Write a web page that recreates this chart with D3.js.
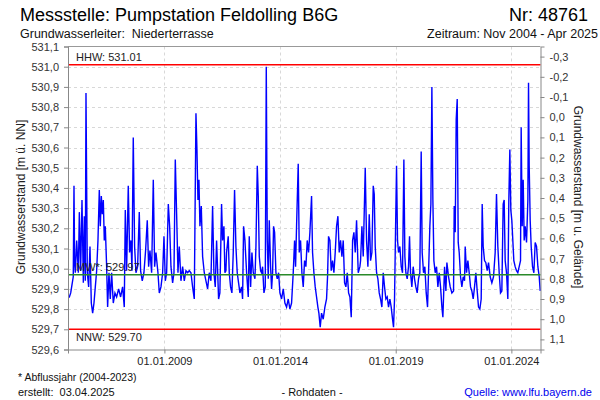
<!DOCTYPE html>
<html><head><meta charset="utf-8">
<script src="https://cdn.jsdelivr.net/npm/d3@7"></script>
<style>body{margin:0;background:#fff}svg{display:block;font-family:"Liberation Sans",Arial,sans-serif}text{white-space:pre}</style>
</head><body><svg id="c" width="600" height="400"></svg>
<script>
// ---- data ----
const title = "Messstelle: Pumpstation Feldolling B6G";
const stationNr = "Nr: 48761";
const aquifer = "Grundwasserleiter:  Niederterrasse";
const period = "Zeitraum: Nov 2004 - Apr 2025";
const xTickDates = ["2009-01-01", "2014-01-01", "2019-01-01", "2024-01-01"];
const xTickLabels = ["01.01.2009", "01.01.2014", "01.01.2019", "01.01.2024"];
const leftTicks = [529.6, 529.7, 529.8, 529.9, 530.0, 530.1, 530.2, 530.3, 530.4, 530.5, 530.6, 530.7, 530.8, 530.9, 531.0, 531.1];
const rightTicks = [-0.3, -0.2, -0.1, 0.0, 0.1, 0.2, 0.3, 0.4, 0.5, 0.6, 0.7, 0.8, 0.9, 1.0, 1.1];
const groundLevel = 530.75;
const refNames = ["HHW", "MW*", "NNW"];
const refValues = [531.01, 529.97, 529.70];
const footNote = "* Abflussjahr (2004-2023)";
const created = "erstellt:  03.04.2025";
const rawNote = "- Rohdaten -";
const source = "Quelle: www.lfu.bayern.de";
// [decimal year, groundwater level m ü. NN]
const levelSeries = [
[2004.84,529.86],[2004.891,529.86],[2004.95,529.88],[2004.991,529.91],[2005.06,529.96],[2005.092,530.41],[2005.12,530.02],[2005.150,529.98],
[2005.208,530.14],[2005.280,529.98],[2005.323,530.28],[2005.380,529.99],[2005.438,530.34],[2005.496,529.93],
[2005.539,530.26],[2005.582,529.94],[2005.611,530.87],[2005.668,529.98],[2005.726,529.91],[2005.784,530.11],
[2005.841,529.83],[2005.899,529.78],[2005.957,529.83],[2006.014,529.91],[2006.072,529.99],[2006.129,530.14],
[2006.187,530.39],[2006.230,530.21],[2006.274,530.36],[2006.317,530.27],[2006.360,530.34],[2006.403,530.14],
[2006.446,530.21],[2006.504,530.01],[2006.547,529.81],[2006.605,529.98],[2006.662,529.85],[2006.720,529.98],
[2006.792,529.83],[2006.864,529.88],[2006.936,529.86],[2007.023,529.90],[2007.109,529.86],[2007.195,529.91],
[2007.267,529.81],[2007.311,530.29],[2007.368,529.99],[2007.440,530.41],[2007.498,530.08],[2007.556,530.14],
[2007.599,529.99],[2007.656,530.65],[2007.714,530.11],[2007.772,529.98],[2007.844,530.01],[2007.916,530.28],
[2007.973,529.99],[2008.045,529.94],[2008.117,529.98],[2008.189,530.09],[2008.261,530.24],[2008.319,530.01],
[2008.377,530.09],[2008.449,529.98],[2008.521,530.44],[2008.578,530.01],[2008.636,530.08],[2008.722,529.98],
[2008.780,529.88],[2008.852,529.91],[2008.924,529.98],[2008.982,530.16],[2009.039,529.94],[2009.097,529.98],
[2009.169,530.32],[2009.227,530.21],[2009.284,530.01],[2009.356,529.93],[2009.414,529.98],[2009.471,530.54],
[2009.529,530.27],[2009.587,529.98],[2009.644,530.11],[2009.716,529.94],[2009.788,530.01],[2009.860,529.94],
[2009.932,529.99],[2010.004,529.98],[2010.076,529.99],[2010.148,529.98],[2010.220,529.91],[2010.292,529.85],
[2010.365,530.77],[2010.408,530.59],[2010.451,530.34],[2010.494,530.44],[2010.537,530.21],[2010.595,530.31],
[2010.653,530.06],[2010.725,529.98],[2010.797,529.94],[2010.869,529.90],[2010.941,529.98],[2011.013,529.94],
[2011.085,530.31],[2011.142,529.98],[2011.200,529.91],[2011.258,530.14],[2011.344,529.85],[2011.40,529.88],
[2011.473,530.32],[2011.517,530.14],[2011.574,530.21],[2011.617,529.98],[2011.661,529.99],[2011.689,530.08],
[2011.761,530.16],[2011.805,529.98],[2011.862,529.91],[2011.920,529.88],[2011.978,530.08],[2012.035,530.39],
[2012.093,530.11],[2012.150,529.98],[2012.208,529.93],[2012.266,529.88],[2012.338,529.91],[2012.381,529.85],
[2012.424,530.21],[2012.482,530.14],[2012.554,529.98],[2012.626,529.86],[2012.669,530.16],[2012.727,529.91],
[2012.784,530.08],[2012.842,529.98],[2012.914,529.95],[2012.957,530.11],[2013.015,530.51],[2013.058,530.36],
[2013.101,530.06],[2013.159,529.99],[2013.202,529.98],[2013.245,530.01],[2013.303,529.88],[2013.360,529.91],
[2013.404,531.00],[2013.447,530.14],[2013.490,529.95],[2013.533,530.24],[2013.591,530.01],[2013.634,529.90],
[2013.677,529.98],[2013.720,530.21],[2013.764,530.18],[2013.821,529.98],[2013.879,529.95],[2013.937,529.98],
[2013.994,529.88],[2014.066,529.85],[2014.138,529.90],[2014.210,529.83],[2014.282,529.81],[2014.354,529.85],
[2014.426,529.80],[2014.498,529.83],[2014.570,529.98],[2014.628,530.14],[2014.671,530.01],[2014.714,530.21],
[2014.786,530.52],[2014.830,530.08],[2014.887,530.14],[2014.945,529.98],[2015.003,529.91],[2015.060,530.04],
[2015.118,530.01],[2015.175,530.14],[2015.233,530.08],[2015.291,530.18],[2015.363,530.36],[2015.406,530.08],
[2015.464,529.98],[2015.521,529.91],[2015.579,529.86],[2015.636,529.81],[2015.680,529.78],[2015.737,529.71],
[2015.795,529.78],[2015.867,529.75],[2015.939,529.81],[2016.011,529.85],[2016.054,529.96],[2016.097,530.16],
[2016.155,530.14],[2016.213,529.99],[2016.270,530.04],[2016.328,529.98],[2016.385,530.08],[2016.443,530.21],
[2016.501,530.26],[2016.558,530.08],[2016.616,530.14],[2016.674,530.06],[2016.731,530.14],[2016.789,529.93],
[2016.846,529.91],[2016.904,529.98],[2016.962,529.88],[2017.019,529.86],[2017.077,529.76],[2017.135,530.14],
[2017.192,530.18],[2017.250,530.08],[2017.307,530.24],[2017.379,529.98],[2017.451,530.01],[2017.480,530.04],
[2017.538,530.21],[2017.595,530.06],[2017.682,530.50],[2017.739,530.14],[2017.797,530.01],[2017.855,530.27],
[2017.912,530.04],[2017.970,530.08],[2018.028,530.41],[2018.071,530.37],[2018.114,530.11],[2018.172,529.98],
[2018.229,529.95],[2018.287,529.88],[2018.344,529.85],[2018.402,529.81],[2018.460,529.98],[2018.517,529.91],
[2018.575,529.85],[2018.633,529.86],[2018.690,529.81],[2018.748,529.85],[2018.805,529.81],[2018.863,529.75],
[2018.906,529.71],[2018.949,529.85],[2018.993,530.19],[2019.036,530.51],[2019.079,530.14],[2019.122,530.08],
[2019.180,530.11],[2019.238,530.01],[2019.295,529.98],[2019.353,530.54],[2019.396,530.06],[2019.439,529.98],
[2019.497,529.95],[2019.554,530.01],[2019.598,530.16],[2019.641,529.98],[2019.698,529.91],[2019.756,530.01],
[2019.814,529.95],[2019.871,529.91],[2019.929,529.88],[2019.987,529.95],[2020.044,529.98],[2020.102,530.58],
[2020.145,530.08],[2020.203,529.98],[2020.260,530.01],[2020.318,529.88],[2020.376,529.81],[2020.419,529.98],
[2020.476,530.21],[2020.520,530.32],[2020.563,530.90],[2020.606,530.34],[2020.649,530.04],[2020.707,529.98],
[2020.764,530.01],[2020.822,529.91],[2020.880,529.98],[2020.937,529.91],[2020.995,529.81],[2021.038,529.76],
[2021.110,530.01],[2021.168,529.89],[2021.211,530.03],[2021.283,529.96],[2021.355,529.91],[2021.427,529.88],
[2021.499,529.89],[2021.528,530.31],[2021.571,530.18],[2021.614,530.74],[2021.658,530.84],[2021.701,530.13],
[2021.744,530.08],[2021.802,529.96],[2021.859,529.91],[2021.917,529.96],[2021.975,529.94],[2022.003,530.11],
[2022.061,529.98],[2022.119,530.04],[2022.176,529.98],[2022.234,529.91],[2022.291,529.89],[2022.349,529.85],
[2022.407,529.91],[2022.464,529.98],[2022.522,529.89],[2022.580,529.81],[2022.637,529.80],[2022.695,529.85],
[2022.738,530.32],[2022.781,530.11],[2022.839,530.04],[2022.896,530.03],[2022.954,529.99],[2023.012,530.03],
[2023.084,529.96],[2023.156,529.93],[2023.228,529.96],[2023.300,530.08],[2023.357,530.37],[2023.415,530.11],
[2023.473,529.98],[2023.530,529.88],[2023.588,529.89],[2023.646,530.32],[2023.689,530.34],[2023.732,530.04],
[2023.790,529.98],[2023.847,529.85],[2023.890,530.34],[2023.934,530.59],[2023.977,530.29],[2024.020,530.24],
[2024.063,530.14],[2024.106,530.04],[2024.164,530.01],[2024.222,529.99],[2024.279,529.98],[2024.337,530.01],
[2024.395,530.04],[2024.423,530.70],[2024.467,530.21],[2024.510,530.44],[2024.553,530.14],[2024.596,530.21],
[2024.654,530.13],[2024.712,530.34],[2024.740,530.92],[2024.769,530.51],[2024.812,530.24],[2024.855,530.11],
[2024.913,530.01],[2024.971,529.98],[2025.028,530.13],[2025.086,530.11],[2025.144,530.01],[2025.202,529.96],
[2025.245,529.89]
];

// ---- helpers ----
function yearToDate(y){
  const yr = Math.floor(y);
  const a = Date.UTC(yr,0,1), b = Date.UTC(yr+1,0,1);
  return new Date(a + (y-yr)*(b-a));
}
const fmt1 = v => d3.format(".1f")(v).replace(".", ",").replace("−","-");

// ---- layout ----
const svg = d3.select("#c");
const L = 68, R = 540.5, T = 46.5, B = 349.5;
const x = d3.scaleUtc().domain([new Date(Date.UTC(2004,10,1)), new Date(Date.UTC(2025,3,5))]).range([L, R]);
const y = d3.scaleLinear().domain([529.6, 531.1]).range([B, T]);
const y2 = d3.scaleLinear().domain([groundLevel-529.6, groundLevel-531.1]).range([B, T]);

svg.append("rect").attr("width",600).attr("height",400).attr("fill","#fff");

// grid
svg.append("g").selectAll("line").data(leftTicks.filter(v=>v>529.65 && v<531.05)).join("line")
  .attr("x1",L).attr("x2",R).attr("y1",d=>Math.round(y(d))+0.5).attr("y2",d=>Math.round(y(d))+0.5)
  .attr("stroke","#d8d8d8").attr("stroke-dasharray","3,3");
svg.append("g").selectAll("line").data(xTickDates).join("line")
  .attr("x1",d=>Math.round(x(new Date(d)))+0.5).attr("x2",d=>Math.round(x(new Date(d)))+0.5)
  .attr("y1",T).attr("y2",B).attr("stroke","#d8d8d8").attr("stroke-dasharray","3,3");

// frame top
svg.append("line").attr("x1",L).attr("x2",R).attr("y1",T).attr("y2",T).attr("stroke","#999");

// data
const line = d3.line().x(d=>x(yearToDate(d[0]))).y(d=>y(d[1]));
svg.append("path").datum(levelSeries).attr("d",line).attr("fill","none")
  .attr("stroke","#0000ff").attr("stroke-width",1.4).attr("stroke-linejoin","miter");

// reference lines
const refColors = ["#ff0000","#2a8a2a","#ff0000"];
refValues.forEach((v,i)=>{
  svg.append("line").attr("x1",L).attr("x2",R).attr("y1",y(v)).attr("y2",y(v))
    .attr("stroke",refColors[i]).attr("stroke-width",1.6);
});
const refLabelDy = [-4, -4, 12];
refValues.forEach((v,i)=>{
  svg.append("text").attr("x",76).attr("y",y(v)+refLabelDy[i]).attr("font-size",11).attr("fill","#222")
    .text(refNames[i]+": "+v.toFixed(2));
});

// left axis
const gl = svg.append("g").attr("transform",`translate(${L},0)`)
  .call(d3.axisLeft(y).tickValues(leftTicks).tickSize(4).tickPadding(5).tickFormat(fmt1));
gl.select(".domain").attr("stroke","#888");
gl.selectAll(".tick line").attr("stroke","#888");
gl.selectAll("text").attr("font-size",11).attr("fill","#333").attr("font-family","Liberation Sans, Arial");

// right axis
const gr = svg.append("g").attr("transform",`translate(${R},0)`)
  .call(d3.axisRight(y2).tickValues(rightTicks).tickSize(4).tickPadding(5).tickFormat(fmt1));
gr.select(".domain").attr("stroke","#888");
gr.selectAll(".tick line").attr("stroke","#888");
gr.selectAll("text").attr("font-size",11).attr("fill","#333").attr("font-family","Liberation Sans, Arial");

// bottom axis
const gb = svg.append("g").attr("transform",`translate(0,${B})`)
  .call(d3.axisBottom(x).tickValues(xTickDates.map(d=>new Date(d))).tickSize(4).tickPadding(4)
    .tickFormat((d,i)=>xTickLabels[i]));
gb.select(".domain").attr("stroke","#888");
gb.selectAll(".tick line").attr("stroke","#888");
gb.selectAll("text").attr("font-size",11).attr("fill","#222").attr("font-family","Liberation Sans, Arial");

// axis titles
svg.append("text").attr("transform","translate(25,197) rotate(-90)").attr("text-anchor","middle")
  .attr("font-size",12).attr("fill","#222").text("Grundwasserstand [m ü. NN]");
svg.append("text").attr("transform","translate(574,197) rotate(90)").attr("text-anchor","middle")
  .attr("font-size",12).attr("fill","#222").text("Grundwasserstand [m u. Gelände]");

// header
svg.append("text").attr("x",20).attr("y",21).attr("font-size",18).attr("fill","#000").text(title);
svg.append("text").attr("x",588).attr("y",21).attr("text-anchor","end").attr("font-size",18).attr("fill","#000").text(stationNr);
svg.append("text").attr("x",20).attr("y",38).attr("font-size",12.5).attr("fill","#111").text(aquifer);
svg.append("text").attr("x",598).attr("y",38).attr("text-anchor","end").attr("font-size",12.5).attr("fill","#111").text(period);

// footer
svg.append("text").attr("x",18).attr("y",381).attr("font-size",10.5).attr("fill","#111").text(footNote);
svg.append("text").attr("x",18).attr("y",396).attr("font-size",11).attr("fill","#111").text(created);
svg.append("text").attr("x",312).attr("y",396).attr("text-anchor","middle").attr("font-size",11).attr("fill","#111").text(rawNote);
svg.append("text").attr("x",592).attr("y",396).attr("text-anchor","end").attr("font-size",11).attr("fill","#0000ee").text(source);
</script></body></html>
